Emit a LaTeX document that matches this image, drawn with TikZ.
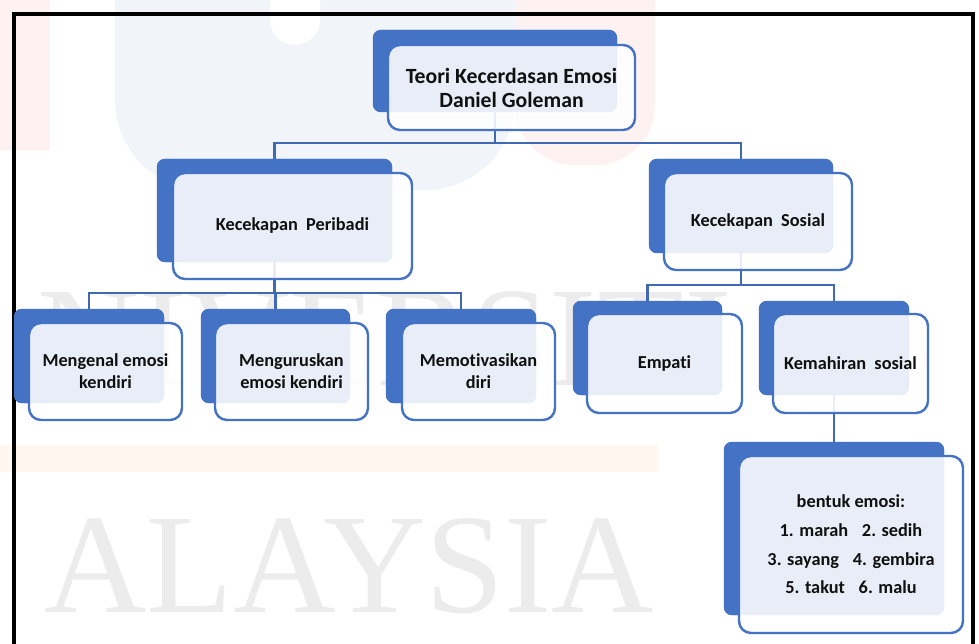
\documentclass[tikz,border=0pt]{standalone}
\usepackage{fontspec}
\setmainfont{Carlito}[RawFeature={-liga}]
\newfontfamily\wmfont{Liberation Serif}
\definecolor{acc}{HTML}{4472C4}
\definecolor{conncol}{HTML}{4169B3}
\definecolor{txt}{HTML}{101010}
\definecolor{wmblue}{HTML}{F1F4F9}
\definecolor{wmpink}{HTML}{FDF1F1}
\definecolor{wmorange}{HTML}{FFF6F0}
\definecolor{wmgray}{HTML}{ECECEC}
\begin{document}
\begin{tikzpicture}[x=1pt,y=-1pt,
  backbox/.style={fill=acc, rounded corners=8pt, inner sep=0pt, draw=none},
  frontbox/.style={draw=acc, line width=2.4pt, fill=white, fill opacity=0.88, text opacity=1,
    rounded corners=12pt, inner sep=0pt, align=center, text=txt,
    font=\bfseries\fontsize{18.3}{22}\selectfont},
  conn/.style={draw=conncol, line width=2.5pt},
  wmtext/.style={anchor=base west, inner sep=0pt, text=wmgray, font=\wmfont\fontsize{142}{142}\selectfont},
]
\useasboundingbox (0,0) rectangle (979,644);
\fill[white] (0,0) rectangle (979,644);
% faint watermark
\fill[wmpink] (0,0) rectangle (50,150);
\fill[wmblue, rounded corners=90pt] (115,-100) rectangle (515,190);
\fill[white, rounded corners=25pt] (270,-60) rectangle (320,45);
\fill[wmpink, rounded corners=60pt] (515,-100) rectangle (655,165);
\fill[wmorange] (0,445) rectangle (658,472);
\node[wmtext] (wm1) at (37,385) {NIVERSITI};
\node[wmtext] (wm2) at (44,612) {ALAYSIA};
% frame
\draw[line width=4pt] (14,644) -- (14,14) -- (973,14) -- (973,644);
% back boxes
\node[backbox, minimum width=244pt, minimum height=82pt] (topB) at (495,71) {};
\node[backbox, minimum width=235pt, minimum height=103pt] (perB) at (274.5,210.5) {};
\node[backbox, minimum width=184pt, minimum height=94pt] (sosB) at (741,206) {};
\node[backbox, minimum width=150pt, minimum height=94pt] (m1B) at (89,356) {};
\node[backbox, minimum width=149pt, minimum height=94pt] (m2B) at (275.5,356) {};
\node[backbox, minimum width=150pt, minimum height=94pt] (m3B) at (461,356) {};
\node[backbox, minimum width=149pt, minimum height=94pt] (empB) at (647.5,348) {};
\node[backbox, minimum width=150pt, minimum height=94pt] (kemB) at (834,348) {};
\node[backbox, minimum width=220pt, minimum height=173pt] (benB) at (834,528.5) {};
% connectors
\draw[conn] (topB.south) -- ++(0,31) -| (perB.north);
\draw[conn] (topB.south) -- ++(0,31) -| (sosB.north);
\draw[conn] (perB.south) -- ++(0,31) -| (m1B.north);
\draw[conn] (perB.south) -- ++(0,31) -| (m2B.north);
\draw[conn] (perB.south) -- ++(0,31) -| (m3B.north);
\draw[conn] (sosB.south) -- ++(0,32) -| (empB.north);
\draw[conn] (sosB.south) -- ++(0,32) -| (kemB.north);
\draw[conn] (kemB.south) -- (benB.north);
% redraw back boxes over connector ends
\foreach \b in {topB,perB,sosB,m1B,m2B,m3B,empB,kemB,benB}
  \fill[acc, rounded corners=8pt] (\b.south west) rectangle (\b.north east);
% front boxes
\node[frontbox, minimum width=247pt, minimum height=85pt, font=\bfseries\fontsize{21.7}{24}\selectfont] (topF) at (511.5,87.5) {Teori Kecerdasan Emosi\\Daniel Goleman};
\node[frontbox, minimum width=239pt, minimum height=106pt] (perF) at (292.5,226) {Kecekapan~ Peribadi};
\node[frontbox, minimum width=188pt, minimum height=97pt] (sosF) at (758,221.5) {Kecekapan~ Sosial};
\node[frontbox, minimum width=153pt, minimum height=97pt] (m1F) at (105.5,371.5) {Mengenal emosi\\kendiri};
\node[frontbox, minimum width=153pt, minimum height=97pt] (m2F) at (291.5,371.5) {Menguruskan\\emosi kendiri};
\node[frontbox, minimum width=153pt, minimum height=97pt] (m3F) at (478.5,371.5) {Memotivasikan\\diri};
\node[frontbox, minimum width=155pt, minimum height=99pt] (empF) at (664.5,363.5) {Empati};
\node[frontbox, minimum width=155pt, minimum height=99pt] (kemF) at (850.5,363.5) {Kemahiran~ sosial};
\node[frontbox, minimum width=224pt, minimum height=177pt, font=\bfseries\fontsize{18.3}{28.7}\selectfont] (benF) at (851,544.5) {bentuk emosi:\\1. marah\hspace{0.75em}2. sedih\\3. sayang\hspace{0.75em}4. gembira\\5. takut\hspace{0.75em}6. malu};
\end{tikzpicture}
\end{document}
